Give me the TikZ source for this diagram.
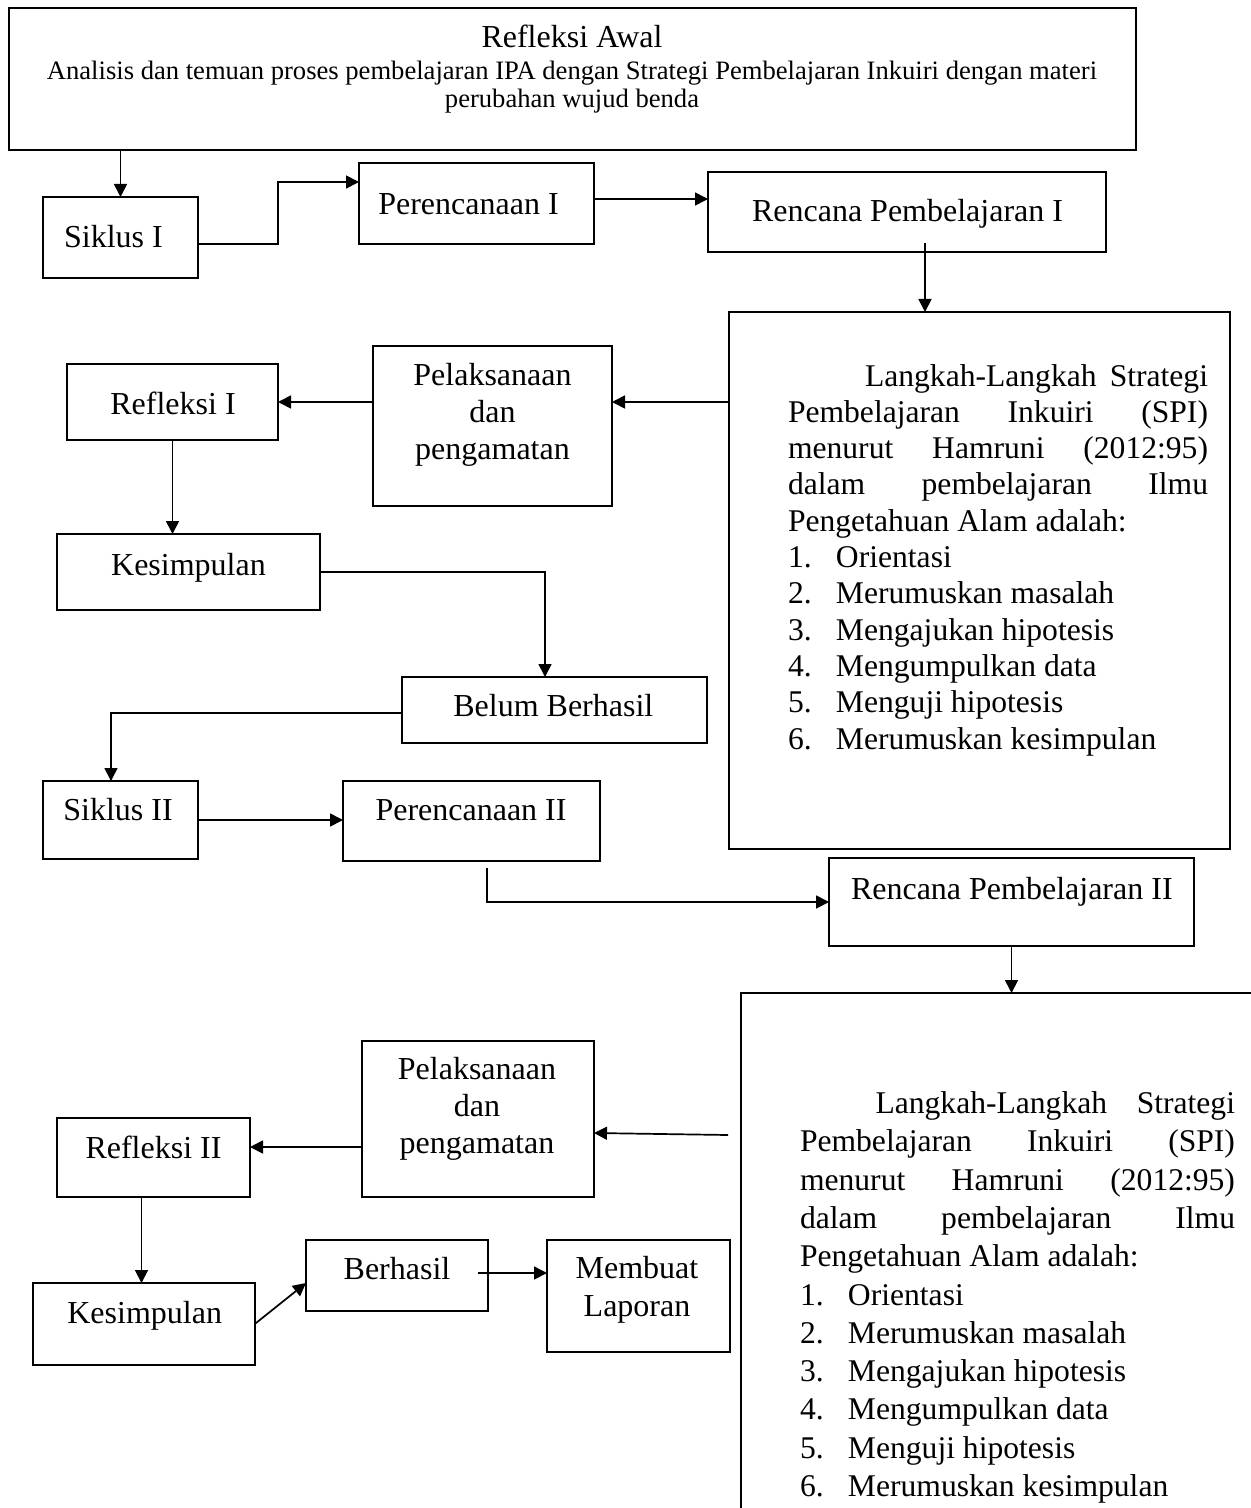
\documentclass[tikz,border=0pt]{standalone}
\usepackage{fontspec}
\setmainfont{Liberation Serif}
\usetikzlibrary{arrows.meta}
\newcommand\spiblock[2]{%
\hbox to #1{\hspace*{#2}Langkah-Langkah\hfill Strategi}\\
\hbox to #1{Pembelajaran\hfill Inkuiri\hfill (SPI)}\\
\hbox to #1{menurut\hfill Hamruni\hfill (2012:95)}\\
\hbox to #1{dalam\hfill pembelajaran\hfill Ilmu}\\
Pengetahuan Alam adalah:\\
\makebox[24pt][l]{1.}Orientasi\\
\makebox[24pt][l]{2.}Merumuskan masalah\\
\makebox[24pt][l]{3.}Mengajukan hipotesis\\
\makebox[24pt][l]{4.}Mengumpulkan data\\
\makebox[24pt][l]{5.}Menguji hipotesis\\
\makebox[24pt][l]{6.}Merumuskan kesimpulan}
\begin{document}
\begin{tikzpicture}[x=0.5pt,y=-0.5pt,
  box/.style={draw, line width=0.95pt, inner sep=0pt, outer sep=0pt},
  txt/.style={inner sep=0pt, outer sep=0pt, font=\fontsize{16}{18.5}\selectfont, align=center},
  small/.style={inner sep=0pt, outer sep=0pt, font=\fontsize{13.3}{14}\selectfont, align=center},
  steps/.style={inner sep=0pt, outer sep=0pt, align=left},
  conn/.style={line width=0.85pt, -{Triangle[length=6.5pt,width=6.5pt]}}
]
\path[use as bounding box, fill=white] (0,0) rectangle (1251,1508);
\clip (0,0) rectangle (1251,1508);

% boxes
\node[box, minimum width=563.5pt, minimum height=71pt] (awal) at (572.5,79) {};
\node[box, minimum width=77.5pt, minimum height=40.5pt] (sik1) at (120.5,237.5) {};
\node[box, minimum width=117.5pt, minimum height=40.5pt] (per1) at (476.5,203.5) {};
\node[box, minimum width=199pt, minimum height=40pt] (ren1) at (907,212) {};
\node[box, minimum width=250.5pt, minimum height=268.5pt] (lang1) at (979.5,580.5) {};
\node[box, minimum width=119.5pt, minimum height=80pt] (pel1) at (492.5,426) {};
\node[box, minimum width=105.5pt, minimum height=38pt] (ref1) at (172.5,402) {};
\node[box, minimum width=131.5pt, minimum height=38pt] (kes1) at (188.5,572) {};
\node[box, minimum width=152.5pt, minimum height=33pt] (belum) at (554.5,710) {};
\node[box, minimum width=77.5pt, minimum height=39pt] (sik2) at (120.5,820) {};
\node[box, minimum width=128.5pt, minimum height=40pt] (per2) at (471.5,821) {};
\node[box, minimum width=182.5pt, minimum height=44pt] (ren2) at (1011.5,902) {};
\node[box, minimum width=279.5pt, minimum height=283.5pt] (lang2) at (1020.5,1276.5) {};
\node[box, minimum width=116pt, minimum height=78pt] (pel2) at (478,1119) {};
\node[box, minimum width=96.5pt, minimum height=39.5pt] (ref2) at (153.5,1157.5) {};
\node[box, minimum width=110.75pt, minimum height=41pt] (kes2) at (144,1324) {};
\node[box, minimum width=91pt, minimum height=35.5pt] (ber) at (397,1275.5) {};
\node[box, minimum width=91.5pt, minimum height=56pt] (mem) at (638.5,1296) {};

% texts (multi-line nodes: base anchor = baseline of last line)
\node[txt, anchor=base] (awalt) at (572,48) {Refleksi Awal};
\node[small, anchor=base] (awals) at (572,108) {Analisis dan temuan proses pembelajaran IPA dengan Strategi Pembelajaran Inkuiri dengan materi\\perubahan wujud benda};
\node[txt, anchor=base] (sik1t) at (113.5,248) {Siklus I};
\node[txt, anchor=base] (per1t) at (468.5,215) {Perencanaan I};
\node[txt, anchor=base] (ren1t) at (907.5,222) {Rencana Pembelajaran I};
\node[txt, anchor=base] (pel1t) at (492.5,459) {Pelaksanaan\\dan\\pengamatan};
\node[txt, anchor=base] (ref1t) at (173,414) {Refleksi I};
\node[txt, anchor=base] (kes1t) at (188.5,575) {Kesimpulan};
\node[txt, anchor=base] (belumt) at (553.3,716) {Belum Berhasil};
\node[txt, anchor=base] (sik2t) at (118,820) {Siklus II};
\node[txt, anchor=base] (per2t) at (471,820) {Perencanaan II};
\node[txt, anchor=base] (ren2t) at (1011.8,899) {Rencana Pembelajaran II};
\node[txt, anchor=base] (pel2t) at (477,1153) {Pelaksanaan\\dan\\pengamatan};
\node[txt, anchor=base] (ref2t) at (153.5,1158) {Refleksi II};
\node[txt, anchor=base] (kes2t) at (144.7,1323) {Kesimpulan};
\node[txt, anchor=base] (bert) at (397,1279) {Berhasil};
\node[txt, anchor=base, font=\fontsize{16}{19}\selectfont] (memt) at (637,1316) {Membuat\\Laporan};
\node[steps, anchor=base west, font=\fontsize{15.8}{18.15}\selectfont] (lang1t) at (788,749) {\spiblock{210pt}{38.5pt}};
\node[steps, anchor=base west, font=\fontsize{15.8}{19.15}\selectfont] (lang2t) at (800,1496.5) {\spiblock{217.5pt}{37.75pt}};

% connectors
\draw[conn] (sik1.north |- awal.south) -- (sik1.north);
\coordinate (c1) at ([yshift=-3.25pt]sik1.east);
\coordinate (c2) at ([yshift=10.75pt]per1.west);
\draw[conn] (c1) -- ++(80,0) |- (c2);
\coordinate (c3) at ([yshift=2.25pt]per1.east);
\draw[conn] (c3) -- (c3 -| ren1.west);
\coordinate (c4) at ([xshift=9pt,yshift=4.5pt]ren1.south);
\draw[conn] (c4) -- (c4 |- lang1.north);
\coordinate (c5) at ([yshift=12pt]pel1.east);
\draw[conn] (c5 -| lang1.west) -- (c5);
\draw[conn] (ref1.east -| pel1.west) -- (ref1.east);
\draw[conn] (ref1.south) -- (ref1.south |- kes1.north);
\draw[conn] (kes1.east) -| ([xshift=-4.75pt]belum.north);
\draw[conn] ([yshift=-1.5pt]belum.west) -| ([xshift=-4.75pt]sik2.north);
\draw[conn] (sik2.east) -- (sik2.east -| per2.west);
\draw[conn] ([xshift=7.75pt,yshift=-3.5pt]per2.south) |- (ren2.west);
\draw[conn] (ren2.south) -- (ren2.south |- lang2.north);
\coordinate (f1) at (728,1135);
\draw[conn] (f1) -- ([yshift=-7pt]pel2.east);
\coordinate (c6) at ([yshift=5.25pt]ref2.east);
\draw[conn] (c6 -| pel2.west) -- (c6);
\coordinate (c7) at ([xshift=-6pt]ref2.south);
\draw[conn] (c7) -- (c7 |- kes2.north);
\draw[conn] (kes2.east) -- ([yshift=-3.75pt]ber.west);
\coordinate (c8) at ([xshift=-5pt,yshift=1.25pt]ber.east);
\draw[conn] (c8) -- (c8 -| mem.west);
\end{tikzpicture}
\end{document}
